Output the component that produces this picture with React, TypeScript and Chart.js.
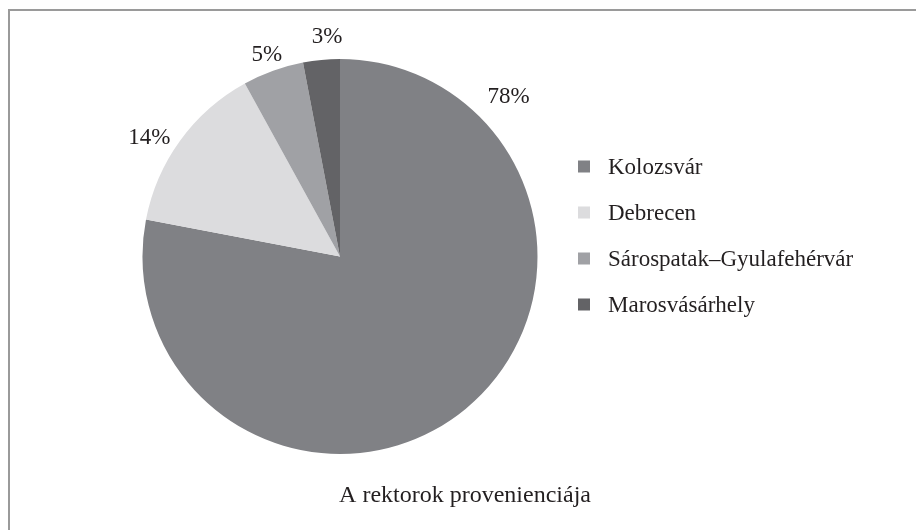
import React, { useEffect, useRef } from "react";
import { Chart, registerables } from "chart.js";

Chart.register(...registerables);

const categories = ["Kolozsvár", "Debrecen", "Sárospatak–Gyulafehérvár", "Marosvásárhely"];
const values = [78, 14, 5, 3];
const percentLabels = ["78%", "14%", "5%", "3%"];
const colors = ["#808185", "#dcdcde", "#a0a1a5", "#636366"];
const chartTitle = "A rektorok provenienciája";

// label placement: fraction along each slice's arc, and distance beyond the rim
const labelAngleFrac = [0.166, 0.417, 0.49, 0.69];
const labelRimOffset = [34.5, 27, 17, 22.5];

const FONT = "'Liberation Serif', 'Times New Roman', serif";
const TEXT_COLOR = "#231f20";

const overlayPlugin = {
  id: "overlay",
  afterDraw(chart: any) {
    const ctx = chart.ctx;
    const meta = chart.getDatasetMeta(0);
    ctx.save();
    ctx.fillStyle = TEXT_COLOR;
    ctx.font = `23px ${FONT}`;
    ctx.textAlign = "center";
    ctx.textBaseline = "middle";
    meta.data.forEach((arc: any, i: number) => {
      const { x, y, startAngle, endAngle, outerRadius } = arc.getProps(
        ["x", "y", "startAngle", "endAngle", "outerRadius"],
        true
      );
      const a = startAngle + labelAngleFrac[i] * (endAngle - startAngle);
      const d = outerRadius + labelRimOffset[i];
      ctx.fillText(percentLabels[i], x + Math.cos(a) * d, y + Math.sin(a) * d);
    });

    // legend
    const area = chart.chartArea;
    const boxX = area.right + 40;
    const firstY = 155.5;
    const step = 46;
    ctx.textAlign = "left";
    categories.forEach((name, i) => {
      const cy = firstY + i * step;
      ctx.fillStyle = colors[i];
      ctx.fillRect(boxX, cy - 6, 12, 12);
      ctx.fillStyle = TEXT_COLOR;
      ctx.font = `23px ${FONT}`;
      ctx.fillText(name, boxX + 30, cy + 1);
    });

    // title
    ctx.textAlign = "center";
    ctx.font = `24px ${FONT}`;
    ctx.fillStyle = TEXT_COLOR;
    ctx.fillText(chartTitle, chart.width / 2 + 2, 485);
    ctx.restore();
  },
};

export default function App() {
  const canvasRef = useRef<HTMLCanvasElement | null>(null);

  useEffect(() => {
    if (!canvasRef.current) return;
    const chart = new Chart(canvasRef.current, {
      type: "pie",
      data: {
        labels: categories,
        datasets: [
          {
            data: values,
            backgroundColor: colors,
            borderWidth: 0,
          },
        ],
      },
      options: {
        animation: false,
        responsive: true,
        maintainAspectRatio: false,
        layout: { padding: { left: 132, top: 48, right: 378, bottom: 76 } },
        plugins: {
          legend: { display: false },
          title: { display: false },
          tooltip: { enabled: false },
        },
      },
      plugins: [overlayPlugin],
    });
    return () => chart.destroy();
  }, []);

  return (
    <div
      style={{
        position: "fixed",
        left: 8,
        top: 9,
        right: 0,
        bottom: 0,
        borderTop: "2px solid #9a9a9a",
        borderLeft: "2px solid #9a9a9a",
        background: "#fff",
      }}
    >
      <div style={{ position: "relative", width: "100%", height: "100%" }}>
        <canvas ref={canvasRef} />
      </div>
    </div>
  );
}
